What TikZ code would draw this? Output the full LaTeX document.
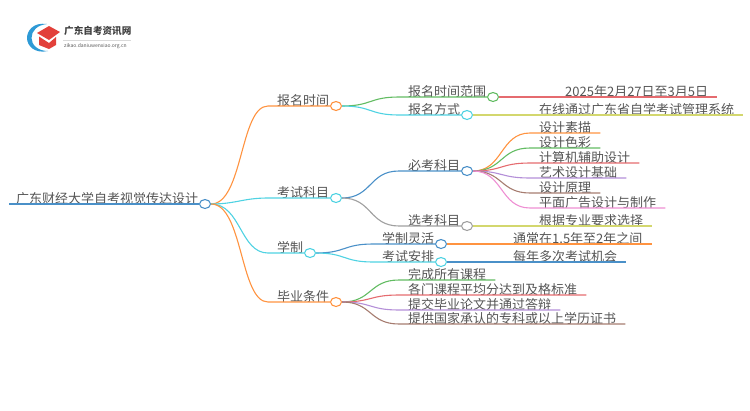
\documentclass[tikz,border=0pt]{standalone}
\usepackage{fontspec}
\setmainfont{Noto Sans CJK SC}
\usetikzlibrary{shapes.geometric}
\definecolor{cblue}{HTML}{4A90C8}
\definecolor{corange}{HTML}{FF9340}
\definecolor{ccyan}{HTML}{4FD2E2}
\definecolor{cgreen}{HTML}{62BC62}
\definecolor{cred}{HTML}{E56B6F}
\definecolor{cyellow}{HTML}{D3D76E}
\definecolor{cpurple}{HTML}{B48FD8}
\definecolor{cbrown}{HTML}{A67C70}
\definecolor{cpink}{HTML}{EE8FD3}
\definecolor{cgray}{HTML}{A0A0A0}
\definecolor{ctext}{HTML}{555555}
\definecolor{clogored}{HTML}{E2403A}
\definecolor{clogoblue}{HTML}{2E9AD6}
\tikzset{
  label/.style={anchor=south west,inner xsep=9pt,inner ysep=0pt,text depth=0.6pt,text=ctext,font=\fontsize{13}{15}\selectfont},
  hub/.style={ellipse,draw=#1,fill=white,line width=1.1pt,minimum width=11pt,minimum height=9pt,inner sep=0pt},
  link/.style={draw=#1,line width=1.1pt}
}
\begin{document}
\begin{tikzpicture}[x=1pt,y=-1pt]
\useasboundingbox (0,0) rectangle (750,410);
% logo
\fill[clogoblue] (47,24) .. controls (33,22) and (27,31) .. (27,38) .. controls (27,46) and (35,54) .. (48,51) .. controls (38,51) and (31.5,45) .. (31.5,38) .. controls (31.5,31) and (37,25) .. (47,24) -- cycle;
\fill[clogored] (37,33) -- (49,26) -- (60,32) -- (49,40) -- cycle;
\fill[clogored] (39,36.5) -- (49,43) -- (56,37) -- (56,45) -- (49,49) -- (39,45) -- cycle;
\node[text=black!75,font=\fontsize{9.6}{11}\bfseries\selectfont,anchor=west,inner sep=0pt] (logotext) at (64,31) {广东自考资讯网};
\node[text=black!65,font=\fontsize{5}{6}\selectfont,anchor=west,inner sep=0pt] (logourl) at (64,46) {zikao.daniuwenxiao.org.cn};
\draw[black!15,line width=0.5pt] (63,40) -- (131,40);
% root and branches
\node[label,inner xsep=7pt] (root) at (9,204) {广东财经大学自考视觉传达设计};
\node[hub=cblue] (roothub) at (205,204) {};
\draw[link=cblue] (root.south west) -- (roothub.west);
\node[label] (bmsj) at (268,106) {报名时间};
\node[hub=corange] (bmsjhub) at (336,106) {};
\node[label] (kskm) at (268,198) {考试科目};
\node[hub=ccyan] (kskmhub) at (336,198) {};
\node[label] (xz) at (268,253) {学制};
\node[hub=ccyan] (xzhub) at (310,253) {};
\node[label] (bytj) at (268,302) {毕业条件};
\node[hub=corange] (bytjhub) at (336,302) {};
\draw[link=corange] (roothub.east) .. controls +(32,0) and +(-28,0) .. (bmsj.south west) -- (bmsjhub.west);
\draw[link=ccyan] (roothub.east) .. controls +(25,0) and +(-25,0) .. (kskm.south west) -- (kskmhub.west);
\draw[link=ccyan] (roothub.east) .. controls +(30,0) and +(-28,0) .. (xz.south west) -- (xzhub.west);
\draw[link=corange] (roothub.east) .. controls +(32,0) and +(-28,0) .. (bytj.south west) -- (bytjhub.west);
% second level
\node[label] (bmfw) at (399,97) {报名时间范围};
\node[hub=cgreen] (bmfwhub) at (493,97) {};
\node[label] (bmfs) at (399,115) {报名方式};
\node[hub=ccyan] (bmfshub) at (467,115) {};
\node[label] (bkkm) at (399,171) {必考科目};
\node[hub=cblue] (bkkmhub) at (467,171) {};
\node[label] (xkkm) at (399,226) {选考科目};
\node[hub=cgray] (xkkmhub) at (467,226) {};
\node[label] (xzlh) at (373,244) {学制灵活};
\node[hub=cblue] (xzlhhub) at (441,244) {};
\node[label] (ksap) at (373,262) {考试安排};
\node[hub=ccyan] (ksaphub) at (441,262) {};
\draw[link=cgreen] (bmsjhub.east) .. controls +(30,0) and +(-30,0) .. (bmfw.south west) -- (bmfwhub.west);
\draw[link=ccyan] (bmsjhub.east) .. controls +(30,0) and +(-30,0) .. (bmfs.south west) -- (bmfshub.west);
\draw[link=cblue] (kskmhub.east) .. controls +(30,0) and +(-30,0) .. (bkkm.south west) -- (bkkmhub.west);
\draw[link=cgray] (kskmhub.east) .. controls +(30,0) and +(-30,0) .. (xkkm.south west) -- (xkkmhub.west);
\draw[link=cblue] (xzhub.east) .. controls +(30,0) and +(-30,0) .. (xzlh.south west) -- (xzlhhub.west);
\draw[link=ccyan] (xzhub.east) .. controls +(30,0) and +(-30,0) .. (ksap.south west) -- (ksaphub.west);
% leaves
\node[label] (sj) at (556,97) {2025年2月27日至3月5日};
\node[label] (zx) at (530,115) {在线通过广东省自学考试管理系统};
\node[label] (l1) at (530,133) {设计素描};
\node[label] (l2) at (530,148) {设计色彩};
\node[label] (l3) at (530,163) {计算机辅助设计};
\node[label] (l4) at (530,178) {艺术设计基础};
\node[label] (l5) at (530,193) {设计原理};
\node[label] (l6) at (530,208) {平面广告设计与制作};
\node[label] (gj) at (530,226) {根据专业要求选择};
\node[label] (tc) at (504,244) {通常在1.5年至2年之间};
\node[label] (mn) at (504,262) {每年多次考试机会};
\node[label] (wc) at (399,280) {完成所有课程};
\node[label] (gm) at (399,295) {各门课程平均分达到及格标准};
\node[label] (tj) at (399,310) {提交毕业论文并通过答辩};
\node[label] (tg) at (399,324) {提供国家承认的专科或以上学历证书};
\draw[link=cred] (bmfwhub.east) -- (sj.south west) -- (sj.south east);
\draw[link=cyellow] (bmfshub.east) -- (zx.south west) -- (zx.south east);
\draw[link=corange] (bkkmhub.east) .. controls +(30,0) and +(-30,0) .. (l1.south west) -- (l1.south east);
\draw[link=cgreen] (bkkmhub.east) .. controls +(30,0) and +(-30,0) .. (l2.south west) -- (l2.south east);
\draw[link=cred] (bkkmhub.east) .. controls +(30,0) and +(-30,0) .. (l3.south west) -- (l3.south east);
\draw[link=cpurple] (bkkmhub.east) .. controls +(30,0) and +(-30,0) .. (l4.south west) -- (l4.south east);
\draw[link=cbrown] (bkkmhub.east) .. controls +(30,0) and +(-30,0) .. (l5.south west) -- (l5.south east);
\draw[link=cpink] (bkkmhub.east) .. controls +(30,0) and +(-30,0) .. (l6.south west) -- (l6.south east);
\draw[link=cyellow] (xkkmhub.east) -- (gj.south west) -- (gj.south east);
\draw[link=corange] (xzlhhub.east) -- (tc.south west) -- (tc.south east);
\draw[link=cblue] (ksaphub.east) -- (mn.south west) -- (mn.south east);
\draw[link=cgreen] (bytjhub.east) .. controls +(30,0) and +(-30,0) .. (wc.south west) -- (wc.south east);
\draw[link=cred] (bytjhub.east) .. controls +(30,0) and +(-30,0) .. (gm.south west) -- (gm.south east);
\draw[link=cpurple] (bytjhub.east) .. controls +(30,0) and +(-30,0) .. (tj.south west) -- (tj.south east);
\draw[link=cbrown] (bytjhub.east) .. controls +(30,0) and +(-30,0) .. (tg.south west) -- (tg.south east);
\end{tikzpicture}
\end{document}
